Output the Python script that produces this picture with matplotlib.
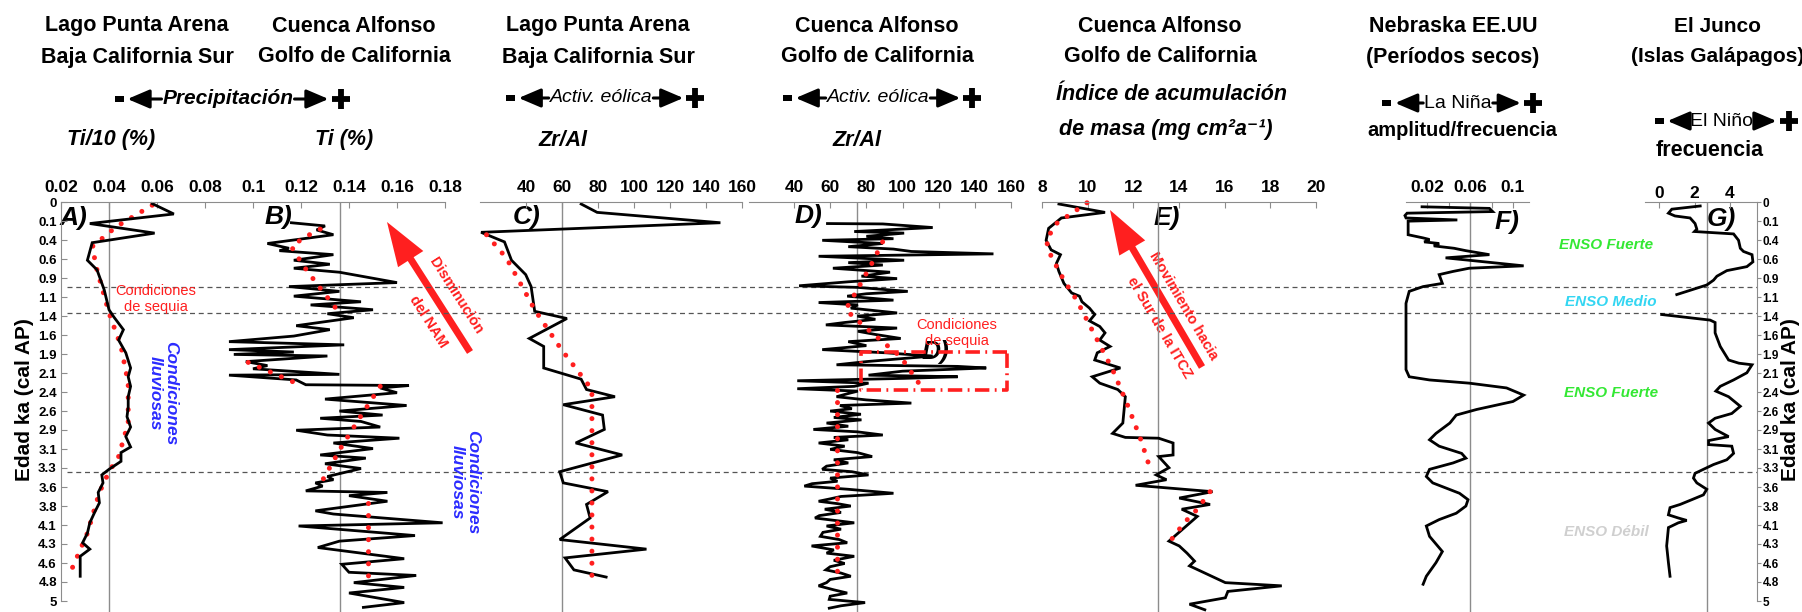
import numpy as np
import matplotlib
matplotlib.use('Agg')
import matplotlib.pyplot as plt
from matplotlib.patches import Rectangle, FancyArrow
from matplotlib.transforms import blended_transform_factory

plt.rcParams['font.family'] = ['Liberation Sans', 'DejaVu Sans']
plt.rcParams['font.weight'] = 'bold'

# shared age axis (ka cal AP)
age_ticks = np.linspace(0, 5, 22)
age_labels = ['0', '0.1', '0.4', '0.6', '0.9', '1.1', '1.4', '1.6', '1.9', '2.1', '2.4',
              '2.6', '2.9', '3.1', '3.3', '3.6', '3.8', '4.1', '4.3', '4.6', '4.8', '5']
event_ages = [1.06, 1.39, 3.38]

# A) Lago Punta Arena, Ti/10 (%)
a_age = [0.02, 0.15, 0.27, 0.39, 0.51, 0.73, 0.85, 1.10, 1.35, 1.44, 1.60, 1.73, 1.89, 2.08,
         2.19, 2.31, 2.44, 2.57, 2.69, 2.82, 2.94, 3.07, 3.14, 3.25, 3.35, 3.42, 3.52, 3.64,
         3.77, 3.89, 4.02, 4.15, 4.27, 4.35, 4.44, 4.69]
a_ti = [0.058, 0.067, 0.032, 0.059, 0.033, 0.031, 0.035, 0.038, 0.040, 0.042, 0.046, 0.044,
        0.047, 0.049, 0.048, 0.049, 0.048, 0.048, 0.0475, 0.049, 0.047, 0.049, 0.045, 0.045,
        0.040, 0.037, 0.0375, 0.0355, 0.036, 0.034, 0.032, 0.031, 0.029, 0.032, 0.028, 0.028]
a_trend_age = [0.04, 0.31, 0.56, 0.85, 1.39, 1.81, 2.27, 2.77, 3.19, 3.38, 3.64, 4.15, 4.60]
a_trend = [0.058, 0.043, 0.033, 0.035, 0.040, 0.045, 0.048, 0.048, 0.044, 0.040, 0.036, 0.031, 0.0245]

# B) Cuenca Alfonso, Ti (%)
b_age = [0.26, 0.30, 0.35, 0.41, 0.52, 0.58, 0.61, 0.66, 0.73, 0.78, 0.83, 0.88, 1.01, 1.06,
         1.12, 1.18, 1.25, 1.29, 1.35, 1.40, 1.45, 1.55, 1.60, 1.68, 1.75, 1.79, 1.85, 1.88,
         1.91, 1.93, 2.00, 2.05, 2.09, 2.16, 2.17, 2.23, 2.29, 2.30, 2.33, 2.39, 2.47, 2.55,
         2.62, 2.67, 2.71, 2.75, 2.82, 2.86, 2.92, 2.96, 3.02, 3.09, 3.17, 3.21, 3.28, 3.34,
         3.44, 3.48, 3.52, 3.56, 3.62, 3.64, 3.68, 3.75, 3.87, 3.91, 4.02, 4.06, 4.18, 4.25,
         4.33, 4.47, 4.54, 4.64, 4.68, 4.77, 4.83, 4.90, 5.02, 5.08]
b_ti = [0.116, 0.130, 0.1265, 0.1335, 0.106, 0.115, 0.111, 0.1335, 0.117, 0.132, 0.117, 0.136,
        0.160, 0.115, 0.136, 0.117, 0.145, 0.124, 0.150, 0.131, 0.142, 0.118, 0.132, 0.117,
        0.090, 0.138, 0.090, 0.117, 0.092, 0.131, 0.097, 0.106, 0.100, 0.136, 0.090, 0.118,
        0.122, 0.165, 0.153, 0.160, 0.130, 0.164, 0.136, 0.154, 0.128, 0.145, 0.153, 0.118,
        0.131, 0.161, 0.1335, 0.150, 0.128, 0.147, 0.130, 0.145, 0.131, 0.1335, 0.126, 0.129,
        0.122, 0.156, 0.140, 0.156, 0.126, 0.1335, 0.179, 0.119, 0.1675, 0.136, 0.127, 0.163,
        0.137, 0.140, 0.168, 0.142, 0.163, 0.140, 0.163, 0.146]
b_trends = [([0.34, 0.45, 0.56, 0.80, 1.04, 1.37], [0.128, 0.121, 0.116, 0.121, 0.127, 0.1355]),
            ([2.01, 2.31], [0.098, 0.121]),
            ([2.31, 2.68, 3.06, 3.54], [0.153, 0.145, 0.137, 0.128]),
            ([3.77, 4.70], [0.148, 0.148])]

# C) Lago Punta Arena, Zr/Al
c_age = [0.025, 0.13, 0.26, 0.38, 0.50, 0.73, 0.91, 1.06, 1.37, 1.46, 1.71, 1.81, 2.08, 2.22,
         2.35, 2.44, 2.54, 2.67, 2.85, 3.02, 3.17, 3.38, 3.52, 3.63, 3.79, 3.96, 4.23, 4.35,
         4.46, 4.61, 4.70]
c_zr = [70.6, 79.5, 148, 15.0, 28.0, 31.9, 39.8, 42.8, 44.8, 62.7, 41.8, 49.8, 49.8, 70.6,
        73.6, 89.4, 60.7, 82.5, 83.5, 67.6, 93.4, 58.7, 60.7, 85.5, 73.6, 75.6, 58.7, 106.9,
        61.7, 66.6, 84.5]
c_trend_age = [0.41, 0.70, 1.10, 1.35, 1.85, 2.35, 4.71]
c_trend = [18, 29, 38.8, 44.8, 59.7, 76.6, 76.6]

# D) Cuenca Alfonso, Zr/Al
d_age = [0.27, 0.275, 0.32, 0.37, 0.39, 0.43, 0.46, 0.48, 0.52, 0.56, 0.59, 0.62, 0.65, 0.68,
         0.73, 0.76, 0.79, 0.83, 0.88, 0.93, 0.96, 1.00, 1.05, 1.07, 1.12, 1.15, 1.18, 1.23,
         1.26, 1.29, 1.33, 1.39, 1.43, 1.47, 1.51, 1.54, 1.58, 1.62, 1.66, 1.71, 1.75, 1.80,
         1.85, 1.89, 1.91, 1.93, 1.96, 2.00, 2.04, 2.06, 2.08, 2.12, 2.17, 2.19, 2.21, 2.24,
         2.27, 2.31, 2.34, 2.37, 2.40, 2.44, 2.48, 2.52, 2.55, 2.59, 2.62, 2.66, 2.70, 2.73,
         2.77, 2.81, 2.85, 2.88, 2.92, 2.95, 2.98, 3.02, 3.06, 3.10, 3.14, 3.19, 3.23, 3.27,
         3.31, 3.35, 3.38, 3.42, 3.46, 3.50, 3.53, 3.56, 3.60, 3.65, 3.69, 3.72, 3.75, 3.78,
         3.81, 3.85, 3.89, 3.93, 3.96, 4.02, 4.06, 4.10, 4.14, 4.19, 4.23, 4.27, 4.31, 4.36,
         4.40, 4.44, 4.49, 4.53, 4.57, 4.61, 4.65, 4.69, 4.73, 4.77, 4.81, 4.86, 4.90, 4.94,
         4.98, 5.02, 5.06, 5.09]
d_zr = [58.5, 89.1, 116.7, 73.3, 100.9, 80, 95, 55.6, 89.1, 70, 95, 104.9, 150.3, 53.6,
        100.9, 70, 89.1, 61.5, 93.1, 77.3, 97.0, 70, 42.8, 75.3, 102.9, 80, 69.4, 95.0,
        53.6, 75.3, 71.4, 97.0, 75, 85, 68, 57.6, 97.0, 75.3, 85, 99.0, 70, 80,
        55.6, 91.1, 102.9, 116.7, 100.9, 80, 63.5, 130.5, 146.3, 100, 81.2, 130.5, 100.9, 41.8,
        81.2, 73.3, 41.8, 75.3, 70, 63.5, 80, 104.9, 65.4, 72, 60, 77, 62, 77.3,
        58, 70, 50.7, 75, 89.1, 62, 70, 53.6, 68, 60, 75, 83.2, 62, 70,
        58, 55.6, 72, 81.2, 60, 64, 50, 45.7, 70, 95.0, 66, 60, 53.6, 64,
        71.4, 57, 66, 54, 51.6, 73.3, 58, 66, 56, 54.6, 65, 69.4, 49.7, 62,
        58, 73.3, 62, 68, 60, 57.6, 66, 71.4, 60, 58, 53.6, 62, 69.4, 60,
        59.5, 79.3, 66, 59.5]
d_trends = [([0.50, 0.73, 1.10, 1.35, 1.60, 1.94, 2.27], [89, 84, 75, 68.5, 81, 99, 109]),
            ([2.35, 4.75], [64, 64])]
d_box = (77, 158, 1.88, 2.35)   # Zr/Al range and ages of the dry interval

# E) Cuenca Alfonso, mass accumulation rate
e_age = [0.025, 0.13, 0.20, 0.33, 0.48, 0.60, 0.66, 0.77, 0.87, 1.02, 1.14, 1.18, 1.25, 1.33,
         1.41, 1.49, 1.56, 1.64, 1.73, 1.81, 1.89, 1.98, 2.08, 2.19, 2.27, 2.35, 2.44, 2.77,
         2.90, 2.95, 2.96, 3.02, 3.17, 3.19, 3.33, 3.42, 3.48, 3.55, 3.63, 3.71, 3.79, 3.85,
         3.94, 4.25, 4.31, 4.40, 4.50, 4.56, 4.77, 4.81, 4.88, 4.96, 5.04, 5.11]
e_mar = [8.74, 10.76, 8.85, 8.29, 8.18, 8.40, 8.81, 8.63, 8.74, 8.96, 9.30, 9.64, 9.75, 10.08,
         10.31, 10.08, 10.53, 10.76, 10.53, 10.98, 10.42, 10.31, 11.43, 10.20, 10.53, 11.32,
         11.65, 11.54, 11.09, 11.65, 13.11, 13.74, 13.74, 13.11, 13.56, 13.00, 13.45, 12.10,
         15.47, 14.01, 15.36, 14.12, 14.80, 13.56, 14.01, 14.35, 14.68, 14.46, 16.03, 18.50,
         16.14, 16.03, 14.46, 15.13]
e_trends = [([0.01, 0.10, 0.27, 0.48, 0.68, 0.98, 1.23, 1.73, 2.10, 2.56, 2.98, 3.38],
             [9.97, 9.52, 8.63, 8.18, 8.40, 8.96, 9.52, 10.42, 11.09, 11.77, 12.33, 12.78]),
            ([3.63, 3.85, 4.02, 4.27], [15.36, 14.80, 14.23, 13.56])]

# F) Nebraska, La Niña amplitude/frequency
f_age = [0.06, 0.08, 0.12, 0.14, 0.17, 0.20, 0.225, 0.24, 0.41, 0.45, 0.47, 0.50, 0.52, 0.55,
         0.58, 0.61, 0.66, 0.70, 0.73, 0.80, 0.83, 0.87, 0.91, 1.02, 1.06, 1.12, 1.27, 2.10,
         2.19, 2.23, 2.27, 2.33, 2.42, 2.50, 2.60, 2.67, 2.77, 2.90, 2.98, 3.06, 3.15, 3.21,
         3.27, 3.35, 3.44, 3.52, 3.65, 3.73, 3.81, 3.90, 3.98, 4.06, 4.19, 4.38, 4.52, 4.69, 4.79]
f_val = [0.015, 0.078, 0.081, 0.001, -0.001, 0.0, 0.048, 0.002, 0.002, 0.016, 0.022, 0.017,
         0.031, 0.026, 0.045, 0.056, 0.078, 0.037, 0.059, 0.110, 0.059, 0.044, 0.031, 0.034,
         0.016, 0.003, 0.0, 0.0, 0.003, 0.022, 0.059, 0.094, 0.110, 0.100, 0.066, 0.047, 0.041,
         0.028, 0.022, 0.031, 0.052, 0.056, 0.044, 0.022, 0.019, 0.025, 0.050, 0.058, 0.056,
         0.047, 0.031, 0.019, 0.022, 0.034, 0.028, 0.019, 0.016]

# G) El Junco, El Niño frequency (two pieces)
g1_age = [0.05, 0.09, 0.14, 0.175, 0.20, 0.27, 0.34, 0.37, 0.40, 0.48, 0.58, 0.62, 0.66, 0.75,
          0.81, 0.86, 0.93, 0.98, 1.04, 1.16]
g1_val = [2.32, 0.72, 0.53, 0.90, 1.75, 2.03, 2.13, 2.0, 4.2, 4.48, 4.58, 4.76, 5.24, 5.29,
          4.95, 3.82, 3.26, 3.07, 2.69, 1.0]
g2_age = [1.41, 1.48, 1.51, 1.56, 1.64, 1.81, 1.98, 2.02, 2.04, 2.14, 2.23, 2.31, 2.37, 2.44,
          2.56, 2.65, 2.71, 2.77, 2.85, 2.94, 2.99, 3.04, 3.06, 3.15, 3.23, 3.29, 3.35, 3.40,
          3.46, 3.52, 3.60, 3.67, 3.73, 3.79, 3.83, 3.92, 3.96, 3.99, 4.02, 4.08, 4.31, 4.52, 4.69]
g2_val = [0.15, 2.88, 3.16, 3.16, 3.16, 3.45, 3.92, 4.50, 5.24, 4.95, 4.20, 3.45, 3.20, 3.92,
          4.58, 4.10, 3.16, 2.79, 3.16, 3.92, 2.79, 2.79, 4.10, 4.20, 3.82, 3.07, 2.50, 2.03,
          1.94, 2.13, 2.69, 2.50, 1.85, 1.19, 0.62, 0.53, 1.09, 1.56, 1.09, 0.53, 0.43, 0.53, 0.62]

# -------------------------------------------------------------------------------------
W, H = 1802, 612
TOP, BOT = 202, 612
AGE_MAX = 5 * (BOT - TOP) / (601 - TOP)
GREY = '#8c8c8c'
RED = '#ff1f1f'
DOTS = dict(color=RED, lw=3.6, ls=(0, (0.01, 2.4)), dash_capstyle='round', clip_on=False)
CURVE = dict(color='k', lw=2.0, clip_on=False, solid_joinstyle='miter')

fig = plt.figure(figsize=(W / 100, H / 100), dpi=100)
bg = fig.add_axes([0, 0, 1, 1])
bg.set_xlim(0, W)
bg.set_ylim(H, 0)
bg.axis('off')
renderer = fig.canvas.get_renderer()


def panel(x0, x1, xlim, ticks, labels, ref, pad=5):
    ax = fig.add_axes([x0 / W, 0, (x1 - x0) / W, (BOT - TOP) / H])
    ax.set_facecolor('none')
    ax.set_xlim(*xlim)
    ax.set_ylim(AGE_MAX, 0)
    for side in ('left', 'right', 'bottom'):
        ax.spines[side].set_visible(False)
    ax.spines['top'].set_color(GREY)
    ax.xaxis.tick_top()
    ax.set_xticks(ticks, labels)
    ax.tick_params(axis='x', direction='in', length=4, color=GREY, labelsize=12.5, pad=pad)
    ax.set_yticks([])
    ax.axvline(ref, color=GREY, lw=1, zorder=0)
    return ax


ax_ab = panel(61, 445, (0.02, 0.18), np.arange(0.02, 0.181, 0.02),
              ['0.02', '0.04', '0.06', '0.08', '0.1', '0.12', '0.14', '0.16', '0.18'], 0.04)
ax_ab.axvline(0.1363, color=GREY, lw=1, zorder=0)
ax_ab.spines['left'].set_visible(True)
ax_ab.spines['left'].set_color(GREY)
ax_ab.spines['left'].set_bounds(0, 5)
ax_ab.set_yticks(age_ticks, age_labels)
ax_ab.tick_params(axis='y', direction='in', length=4, color=GREY, labelsize=9.5, pad=3)

ax_c = panel(480, 742, (14.4, 160), np.arange(40, 161, 20), [str(v) for v in range(40, 161, 20)], 60)
ax_d = panel(749, 1011, (15.1, 160), np.arange(40, 161, 20), [str(v) for v in range(40, 161, 20)], 75)
ax_e = panel(1042, 1316, (8, 20), np.arange(8, 21, 2), [str(v) for v in range(8, 21, 2)], 13.1)
ax_f = panel(1406, 1529, (0, 0.115), [0.02, 0.04, 0.06, 0.08, 0.1],
             ['0.02', '', '0.06', '', '0.1'], 0.06)
ax_g = panel(1645, 1757, (-0.79, 5.52), [0, 2, 4], ['0', '2', '4'], 2.7, pad=1)
ax_g.spines['right'].set_visible(True)
ax_g.spines['right'].set_color(GREY)
ax_g.spines['right'].set_bounds(0, 5)
ax_g.yaxis.tick_right()
ax_g.set_yticks(age_ticks, age_labels)
ax_g.tick_params(axis='y', direction='out', length=3, color=GREY, labelsize=8.5, pad=1)

# records and trends
ax_ab.plot(a_trend, a_trend_age, **DOTS)
ax_ab.plot(a_ti, a_age, **CURVE)
ax_ab.plot(b_ti, b_age, **CURVE)
for ages, vals in b_trends:
    ax_ab.plot(vals, ages, **DOTS)
ax_c.plot(c_zr, c_age, **CURVE)
ax_c.plot(c_trend, c_trend_age, **DOTS)
ax_d.plot(d_zr, d_age, **CURVE)
for ages, vals in d_trends:
    ax_d.plot(vals, ages, **DOTS)
z0, z1, t0, t1 = d_box
ax_d.plot([z1, z0, z0, z1, z1], [t0, t0, t1, t1, t0], color=RED, lw=2.6,
          ls=(0, (4, 1.5, 0.5, 1.5)), clip_on=False)
ax_e.plot(e_mar, e_age, **CURVE)
for ages, vals in e_trends:
    ax_e.plot(vals, ages, **DOTS)
ax_f.plot(f_val, f_age, **CURVE)
ax_g.plot(g1_val, g1_age, **CURVE)
ax_g.plot(g2_val, g2_age, **CURVE)

# dashed time boundaries across all panels
tr = blended_transform_factory(bg.transData, ax_ab.transData)
for a in event_ages:
    bg.plot([67, 1757], [a, a], transform=tr, color='#555555', lw=0.9, ls=(0, (4, 3)))


def arrow_label(cx, cy, label, size, shaft=34, **kw):
    t = bg.text(cx, cy, label, ha='center', va='center', fontsize=size, **kw)
    bb = t.get_window_extent(renderer)
    y = H - (bb.y0 + bb.y1) / 2
    lft, rgt = bb.x0 - 1, bb.x1 + 1
    head = dict(arrowstyle='-|>,head_length=0.75,head_width=0.32', lw=2.2, color='k',
                shrinkA=0, shrinkB=0, mutation_scale=18)
    bg.annotate('', xy=(lft - shaft, y), xytext=(lft, y), arrowprops=head)
    bg.annotate('', xy=(rgt + shaft, y), xytext=(rgt, y), arrowprops=head)
    bg.add_patch(Rectangle((lft - shaft - 13, y - 3), 9, 6, color='k', lw=0))
    px = rgt + shaft + 12
    bg.plot([px - 9, px + 9], [y, y], color='k', lw=4.2, solid_capstyle='butt')
    bg.plot([px, px], [y - 10, y + 10], color='k', lw=4.2, solid_capstyle='butt')


titles = [(137, 'Lago Punta Arena', 'Baja California Sur'),
          (354, 'Cuenca Alfonso', 'Golfo de California'),
          (598, 'Lago Punta Arena', 'Baja California Sur'),
          (877, 'Cuenca Alfonso', 'Golfo de California'),
          (1160, 'Cuenca Alfonso', 'Golfo de California'),
          (1453, 'Nebraska EE.UU', '(Períodos secos)'),
          (1718, 'El Junco', '(Islas Galápagos)')]
for x, l1, l2 in titles:
    size = 15 if x > 1700 else 15.5
    bg.text(x, 26, l1, ha='center', va='center', fontsize=size)
    bg.text(x, 57, l2, ha='center', va='center', fontsize=size)

arrow_label(228, 99, 'Precipitación', 15, style='italic')
arrow_label(601, 98, 'Activ. eólica', 14, style='italic', weight='normal', shaft=30)
arrow_label(878, 98, 'Activ. eólica', 14, style='italic', weight='normal', shaft=30)
arrow_label(1458, 103, 'La Niña', 14, weight='normal', shaft=28)
arrow_label(1722, 121, 'El Niño', 14, weight='normal', shaft=22)

for x, y, s in [(111, 139, 'Ti/10 (%)'), (344, 139, 'Ti (%)'), (563, 140, 'Zr/Al'),
                (857, 140, 'Zr/Al'), (1171, 95, 'Índice de acumulación'),
                (1166, 130, 'de masa (mg cm²a⁻¹)')]:
    bg.text(x, y, s, ha='center', va='center', fontsize=15.5, style='italic')
bg.text(1462, 130, 'amplitud/frecuencia', ha='center', va='center', fontsize=14.5)
bg.text(1710, 151, 'frecuencia', ha='center', va='center', fontsize=15.5)

for x, y, s in [(73, 218, 'A)'), (278, 217, 'B)'), (527, 217, 'C)'), (808, 216, 'D)'),
                (1167, 218, 'E)'), (1507, 222, 'F)'), (1721, 219, 'G)'), (935, 352, 'D)')]:
    bg.text(x, y, s, ha='center', va='center', fontsize=19, style='italic')

bg.text(25, 400, 'Edad ka (cal AP)', rotation=90, ha='center', va='center', fontsize=15)
bg.text(1791, 400, 'Edad ka (cal AP)', rotation=90, ha='center', va='center', fontsize=15)

bg.text(156, 299, 'Condiciones\nde sequia', ha='center', va='center', fontsize=10.5,
        weight='normal', color=RED, linespacing=1.2)
bg.text(957, 333, 'Condiciones\nde sequia', ha='center', va='center', fontsize=10.5,
        weight='normal', color=RED, linespacing=1.2)
for x, y in [(163, 393), (465, 482)]:
    bg.text(x, y, 'Condiciones\nlluviosas', rotation=-90, ha='center', va='center',
            fontsize=12.5, style='italic', color='#2b2bff', linespacing=1.0)

for x, y, s, c in [(1606, 245, 'ENSO Fuerte', '#33e833'), (1611, 302, 'ENSO Medio', '#33d6f2'),
                   (1611, 393, 'ENSO Fuerte', '#33e833'), (1606, 532, 'ENSO Débil', '#cfcfcf')]:
    bg.text(x, y, s, ha='center', va='center', fontsize=11, style='italic', color=c)

# big red arrows with rotated captions
for (x0, y0, x1, y1), (top, bottom), (tp, bp) in [
        ((470, 352, 387, 222), ('Disminución', 'del NAM'), ((456, 296), (428, 322))),
        ((1202, 367, 1110, 210), ('Movimiento hacia', 'el Sur de la ITCZ'), ((1183, 306), (1160, 328)))]:
    bg.add_patch(FancyArrow(x0, y0, x1 - x0, y1 - y0, width=7, head_width=30, head_length=44,
                            length_includes_head=True, color=RED, lw=0))
    ang = -np.degrees(np.arctan2(y0 - y1, x0 - x1))
    bg.text(*tp, top, rotation=ang, rotation_mode='anchor', ha='center', va='center',
            fontsize=10.5, color=RED)
    bg.text(*bp, bottom, rotation=ang, rotation_mode='anchor', ha='center', va='center',
            fontsize=10.5, color=RED)

fig.savefig('out.png', dpi=100, facecolor='white')
